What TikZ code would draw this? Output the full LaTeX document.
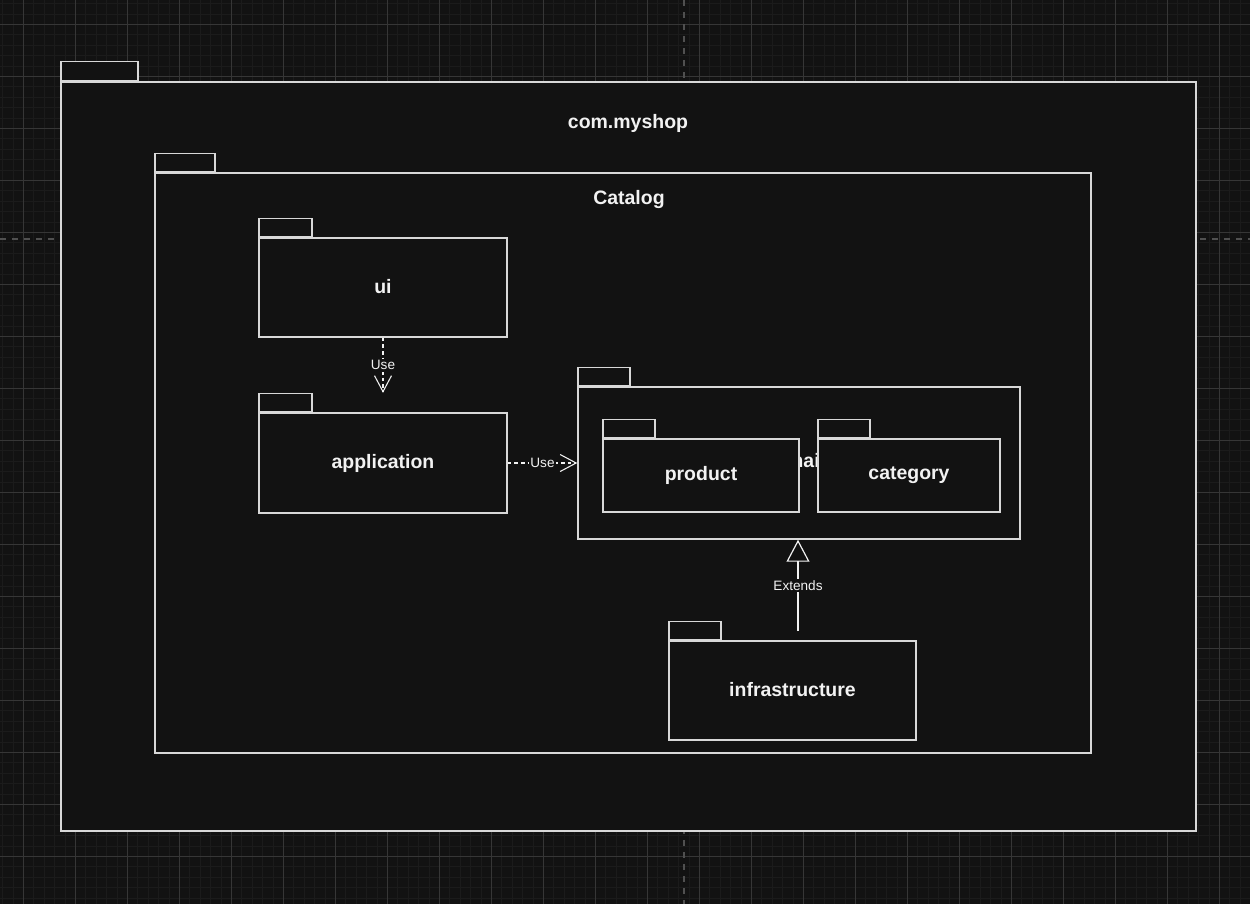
\documentclass[tikz,border=0pt]{standalone}
\usepackage{fontspec}
\setmainfont{Liberation Sans}
\usetikzlibrary{arrows.meta}
\definecolor{bgc}{HTML}{121212}
\definecolor{gridmajor}{HTML}{363636}
\definecolor{gridminor}{HTML}{1B1B1B}
\definecolor{guide}{HTML}{505050}
\definecolor{linec}{HTML}{D8D8D8}
\definecolor{txtc}{HTML}{F2F2F2}
\begin{document}
\begin{tikzpicture}[x=0.75pt,y=-0.75pt,
  pkg/.style={draw=linec, line width=1.1pt, fill=bgc, rectangle, inner sep=0pt,
    font=\bfseries\fontsize{14.6}{17}\selectfont, text=txtc},
  tab/.style={draw=linec, line width=1.1pt, fill=bgc, rectangle, inner sep=0pt, anchor=south west},
  title/.style={font=\bfseries\fontsize{14.6}{17}\selectfont, text=txtc, inner sep=0pt},
  small/.style={font=\fontsize{10.2}{12}\selectfont, text=txtc, fill=bgc, inner sep=1.2pt},
  dep/.style={draw=txtc, line width=0.8pt, dash pattern=on 2.6pt off 2.4pt,
    -{Straight Barb[length=12pt,width=12.75pt,line width=0.8pt]}},
  ext/.style={draw=txtc, line width=0.9pt,
    -{Triangle[open,length=16.5pt,width=17.25pt,line width=0.9pt]}}
]
\useasboundingbox (0,0) rectangle (1250,904);
\fill[bgc] (0,0) rectangle (1250,904);
% background grid
\foreach \i in {0,...,120} \draw[gridminor, line width=0.6pt] ({2.5+10.4*\i},0) -- ({2.5+10.4*\i},904);
\foreach \i in {0,...,87} \draw[gridminor, line width=0.6pt] (0,{3.5+10.4*\i}) -- (1250,{3.5+10.4*\i});
\foreach \i in {0,...,23} \draw[gridmajor, line width=0.7pt] ({23.3+52*\i},0) -- ({23.3+52*\i},904);
\foreach \i in {0,...,16} \draw[gridmajor, line width=0.7pt] (0,{24.3+52*\i}) -- (1250,{24.3+52*\i});
\draw[guide, line width=0.8pt, dash pattern=on 4.5pt off 4.5pt] (684,0) -- (684,904);
\draw[guide, line width=0.8pt, dash pattern=on 4.5pt off 4.5pt] (0,239) -- (1250,239);

% com.myshop
\node[pkg, minimum width=1135*0.75pt, minimum height=749*0.75pt] (shop) at (628.5,456.5) {};
\node[tab, minimum width=77*0.75pt, minimum height=19*0.75pt] (shoptab) at (shop.north west) {};
\node[title] (shoptitle) at (628,123) {com.myshop};

% Catalog
\node[pkg, minimum width=936*0.75pt, minimum height=580*0.75pt] (catalog) at (623,463) {};
\node[tab, minimum width=60*0.75pt, minimum height=18*0.75pt] (catalogtab) at (catalog.north west) {};
\node[title] (catalogtitle) at (629,200) {Catalog};

% ui
\node[pkg, minimum width=248*0.75pt, minimum height=99*0.75pt] (ui) at (383,287.5) {\raisebox{1.5pt}{ui}};
\node[tab, minimum width=53*0.75pt, minimum height=18*0.75pt] (uitab) at (ui.north west) {};

% application
\node[pkg, minimum width=248*0.75pt, minimum height=100*0.75pt] (application) at (383,463) {application};
\node[tab, minimum width=53*0.75pt, minimum height=18*0.75pt] (applicationtab) at (application.north west) {};

% domain
\node[pkg, minimum width=442*0.75pt, minimum height=152*0.75pt] (domain) at (799,463) {};
\node[tab, minimum width=52*0.75pt, minimum height=18*0.75pt] (domaintab) at (domain.north west) {};
\node[title] (domaintitle) at (797,461) {domain};

% product
\node[pkg, minimum width=196*0.75pt, minimum height=73*0.75pt] (product) at (701,475.5) {product};
\node[tab, minimum width=52*0.75pt, minimum height=18*0.75pt] (producttab) at (product.north west) {};

% category
\node[pkg, minimum width=182*0.75pt, minimum height=73*0.75pt] (category) at (909,475.5) {category};
\node[tab, minimum width=52*0.75pt, minimum height=18*0.75pt] (categorytab) at (category.north west) {};

% infrastructure
\node[pkg, minimum width=247*0.75pt, minimum height=99*0.75pt] (infrastructure) at (792.5,690.5) {\raisebox{2pt}{infrastructure}};
\node[tab, minimum width=52*0.75pt, minimum height=18*0.75pt] (infrastructuretab) at (infrastructure.north west) {};

% connectors
\draw[dep] (ui.south) -- node[small] {Use} (ui.south |- applicationtab.north);
\draw[dep] (application.east) -- node[small] {Use} (domain.west);
\coordinate (extfrom) at (798,631);
\draw[ext] (extfrom) -- node[small] {Extends} (extfrom |- domain.south);
\end{tikzpicture}
\end{document}
